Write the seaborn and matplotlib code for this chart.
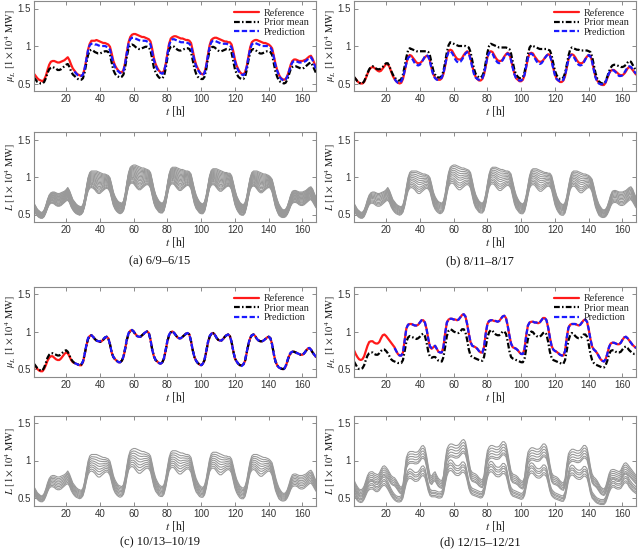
import numpy as np
import pandas as pd
import seaborn as sns
import matplotlib
matplotlib.use("Agg")
import matplotlib.pyplot as plt

hours = list(range(1, 169))
pred_hours = hours[24:]

# ---------------- (a) 6/9-6/15 ----------------
ref_a = [0.63,0.60,0.57,0.55,0.54,0.53,0.55,0.60,0.68,0.75,0.79,0.80,0.80,0.79,0.78,0.78,0.79,0.80,0.81,0.83,0.85,0.81,0.75,0.70,
         0.67,0.64,0.62,0.61,0.60,0.62,0.70,0.82,0.95,1.03,1.07,1.07,1.07,1.08,1.07,1.06,1.05,1.04,1.04,1.03,1.02,0.99,0.90,0.80,
         0.74,0.70,0.67,0.65,0.65,0.68,0.78,0.92,1.05,1.12,1.15,1.16,1.16,1.15,1.14,1.13,1.12,1.12,1.11,1.10,1.09,1.06,0.96,0.84,
         0.76,0.71,0.67,0.65,0.64,0.67,0.76,0.90,1.03,1.10,1.12,1.13,1.13,1.12,1.11,1.10,1.10,1.09,1.08,1.08,1.07,1.04,0.94,0.83,
         0.75,0.70,0.66,0.63,0.62,0.65,0.74,0.88,1.01,1.08,1.10,1.11,1.11,1.10,1.09,1.08,1.07,1.06,1.06,1.05,1.05,1.02,0.93,0.82,
         0.74,0.69,0.65,0.63,0.62,0.65,0.73,0.86,0.98,1.05,1.07,1.08,1.08,1.07,1.06,1.05,1.04,1.04,1.03,1.02,1.00,0.97,0.87,0.76,
         0.68,0.62,0.58,0.56,0.55,0.56,0.60,0.67,0.75,0.80,0.82,0.82,0.81,0.80,0.80,0.80,0.81,0.82,0.84,0.86,0.87,0.83,0.77,0.72]
prior_a = [0.58,0.55,0.52,0.51,0.50,0.50,0.52,0.57,0.64,0.69,0.71,0.72,0.71,0.70,0.68,0.68,0.69,0.71,0.73,0.75,0.76,0.72,0.66,0.62,
           0.60,0.58,0.56,0.55,0.55,0.57,0.65,0.77,0.88,0.94,0.95,0.94,0.92,0.91,0.90,0.90,0.91,0.92,0.93,0.93,0.92,0.88,0.78,0.68,
           0.63,0.60,0.59,0.58,0.59,0.62,0.72,0.86,0.97,1.01,1.02,1.01,0.99,0.97,0.96,0.96,0.97,0.98,0.99,0.99,0.98,0.94,0.83,0.71,
           0.65,0.61,0.58,0.57,0.57,0.60,0.70,0.84,0.95,0.99,1.00,0.99,0.97,0.95,0.94,0.94,0.95,0.96,0.97,0.97,0.96,0.92,0.81,0.70,
           0.63,0.59,0.57,0.56,0.56,0.59,0.69,0.83,0.94,0.98,0.99,0.98,0.96,0.94,0.93,0.93,0.94,0.95,0.96,0.96,0.95,0.91,0.80,0.69,
           0.63,0.59,0.57,0.56,0.56,0.59,0.68,0.81,0.91,0.95,0.96,0.95,0.93,0.91,0.90,0.90,0.91,0.92,0.93,0.93,0.92,0.88,0.77,0.66,
           0.59,0.54,0.52,0.51,0.50,0.51,0.55,0.62,0.69,0.72,0.73,0.73,0.72,0.71,0.70,0.70,0.71,0.73,0.75,0.77,0.78,0.74,0.69,0.64]
pred_a = [0.66,0.63,0.61,0.60,0.60,0.62,0.70,0.82,0.94,1.01,1.03,1.03,1.02,1.02,1.01,1.00,1.00,1.00,1.00,0.99,0.98,0.95,0.86,0.77,
          0.72,0.68,0.66,0.64,0.64,0.67,0.77,0.91,1.03,1.09,1.11,1.11,1.10,1.09,1.08,1.07,1.07,1.07,1.07,1.06,1.05,1.02,0.92,0.81,
          0.74,0.69,0.66,0.64,0.63,0.66,0.75,0.89,1.01,1.07,1.09,1.09,1.08,1.07,1.06,1.05,1.05,1.05,1.05,1.04,1.03,1.00,0.90,0.80,
          0.73,0.68,0.65,0.62,0.61,0.64,0.73,0.87,0.99,1.05,1.07,1.07,1.06,1.05,1.04,1.03,1.03,1.03,1.03,1.02,1.01,0.98,0.89,0.79,
          0.72,0.67,0.64,0.62,0.61,0.64,0.72,0.85,0.96,1.02,1.04,1.04,1.03,1.02,1.01,1.00,1.00,1.00,1.00,0.99,0.98,0.94,0.85,0.74,
          0.67,0.61,0.57,0.55,0.54,0.55,0.59,0.66,0.73,0.78,0.80,0.80,0.79,0.78,0.78,0.78,0.79,0.80,0.82,0.84,0.85,0.81,0.75,0.70]

# ---------------- (b) 8/11-8/17 ----------------
ref_b = [0.58,0.56,0.53,0.51,0.50,0.50,0.52,0.57,0.63,0.68,0.71,0.72,0.71,0.69,0.67,0.66,0.67,0.70,0.73,0.76,0.76,0.72,0.66,0.60,
         0.56,0.53,0.51,0.50,0.51,0.56,0.66,0.77,0.85,0.88,0.87,0.84,0.81,0.78,0.77,0.77,0.79,0.82,0.85,0.87,0.86,0.80,0.70,0.62,
         0.58,0.56,0.55,0.55,0.57,0.63,0.74,0.86,0.93,0.95,0.94,0.90,0.86,0.83,0.82,0.82,0.84,0.88,0.91,0.93,0.91,0.84,0.74,0.65,
         0.59,0.56,0.54,0.54,0.56,0.62,0.73,0.85,0.92,0.93,0.92,0.88,0.84,0.81,0.80,0.80,0.82,0.86,0.89,0.91,0.89,0.82,0.72,0.63,
         0.57,0.55,0.53,0.53,0.55,0.61,0.72,0.84,0.90,0.91,0.90,0.86,0.83,0.80,0.79,0.79,0.81,0.84,0.87,0.89,0.88,0.81,0.71,0.62,
         0.56,0.54,0.52,0.52,0.54,0.60,0.71,0.82,0.88,0.89,0.88,0.85,0.81,0.78,0.77,0.77,0.79,0.83,0.86,0.88,0.87,0.80,0.69,0.59,
         0.54,0.51,0.49,0.48,0.48,0.51,0.57,0.63,0.67,0.68,0.68,0.66,0.64,0.62,0.61,0.61,0.63,0.66,0.70,0.72,0.71,0.68,0.65,0.62]
prior_b = [0.59,0.56,0.53,0.51,0.50,0.50,0.53,0.58,0.64,0.69,0.72,0.73,0.72,0.70,0.69,0.69,0.70,0.72,0.75,0.77,0.77,0.73,0.67,0.62,
           0.58,0.56,0.54,0.54,0.56,0.62,0.73,0.85,0.94,0.97,0.96,0.95,0.94,0.93,0.93,0.93,0.93,0.93,0.93,0.93,0.92,0.87,0.77,0.67,
           0.62,0.59,0.58,0.58,0.60,0.67,0.79,0.92,1.01,1.05,1.04,1.03,1.02,1.01,1.00,1.00,1.00,1.00,1.00,0.99,0.98,0.92,0.81,0.70,
           0.63,0.60,0.58,0.58,0.60,0.66,0.78,0.91,1.00,1.03,1.02,1.01,1.00,0.99,0.98,0.98,0.98,0.98,0.98,0.97,0.96,0.90,0.79,0.68,
           0.62,0.59,0.57,0.57,0.59,0.65,0.77,0.89,0.98,1.01,1.00,0.99,0.98,0.97,0.96,0.96,0.96,0.96,0.96,0.95,0.94,0.88,0.77,0.67,
           0.61,0.58,0.56,0.56,0.58,0.64,0.75,0.87,0.95,0.98,0.97,0.96,0.95,0.95,0.94,0.94,0.94,0.94,0.94,0.93,0.92,0.86,0.75,0.64,
           0.57,0.53,0.51,0.50,0.50,0.53,0.59,0.66,0.71,0.74,0.75,0.75,0.74,0.73,0.72,0.72,0.73,0.75,0.78,0.80,0.79,0.75,0.71,0.67]
pred_b = [0.56,0.53,0.51,0.51,0.53,0.58,0.67,0.77,0.84,0.86,0.85,0.81,0.77,0.75,0.74,0.75,0.78,0.82,0.86,0.88,0.86,0.79,0.69,0.61,
          0.57,0.55,0.55,0.56,0.58,0.64,0.75,0.86,0.92,0.93,0.91,0.87,0.82,0.79,0.78,0.79,0.82,0.86,0.90,0.92,0.90,0.82,0.72,0.63,
          0.58,0.56,0.55,0.55,0.57,0.63,0.74,0.85,0.91,0.92,0.90,0.85,0.81,0.78,0.77,0.78,0.81,0.85,0.88,0.90,0.88,0.81,0.71,0.62,
          0.57,0.55,0.54,0.54,0.56,0.62,0.73,0.84,0.89,0.90,0.88,0.84,0.80,0.77,0.76,0.77,0.80,0.84,0.87,0.89,0.87,0.80,0.70,0.61,
          0.56,0.54,0.53,0.53,0.55,0.61,0.72,0.82,0.87,0.88,0.86,0.82,0.78,0.75,0.74,0.75,0.78,0.82,0.86,0.88,0.86,0.79,0.68,0.58,
          0.53,0.50,0.49,0.49,0.49,0.52,0.58,0.64,0.67,0.68,0.67,0.65,0.62,0.60,0.60,0.61,0.64,0.68,0.71,0.73,0.72,0.69,0.66,0.63]

# ---------------- (c) 10/13-10/19 ----------------
ref_c = [0.56,0.53,0.50,0.48,0.47,0.47,0.50,0.55,0.61,0.65,0.67,0.67,0.65,0.63,0.62,0.62,0.64,0.67,0.70,0.72,0.71,0.67,0.62,0.59,
         0.58,0.57,0.56,0.55,0.55,0.59,0.69,0.81,0.90,0.94,0.95,0.93,0.90,0.88,0.87,0.86,0.87,0.89,0.91,0.93,0.91,0.83,0.72,0.66,
         0.63,0.61,0.59,0.59,0.61,0.66,0.77,0.89,0.97,1.01,1.02,1.00,0.97,0.94,0.93,0.93,0.95,0.97,0.99,1.00,0.98,0.89,0.76,0.67,
         0.62,0.60,0.58,0.57,0.59,0.64,0.75,0.87,0.95,0.99,1.00,0.98,0.95,0.92,0.91,0.91,0.93,0.95,0.97,0.98,0.96,0.87,0.75,0.66,
         0.61,0.58,0.56,0.55,0.57,0.62,0.73,0.85,0.93,0.97,0.98,0.96,0.92,0.89,0.88,0.88,0.90,0.93,0.95,0.96,0.94,0.86,0.74,0.64,
         0.60,0.57,0.55,0.55,0.56,0.61,0.72,0.83,0.91,0.95,0.96,0.94,0.90,0.88,0.87,0.87,0.88,0.90,0.92,0.93,0.91,0.83,0.70,0.60,
         0.55,0.52,0.51,0.50,0.50,0.53,0.60,0.67,0.71,0.73,0.73,0.72,0.71,0.70,0.69,0.69,0.71,0.74,0.77,0.78,0.76,0.72,0.69,0.66]
prior_c = [0.57,0.54,0.51,0.49,0.48,0.48,0.52,0.58,0.65,0.69,0.71,0.71,0.70,0.69,0.68,0.68,0.70,0.72,0.74,0.75,0.73,0.68,0.63,0.60,
           0.58,0.57,0.56,0.55,0.56,0.60,0.70,0.81,0.90,0.94,0.95,0.93,0.90,0.88,0.87,0.86,0.87,0.89,0.92,0.93,0.91,0.83,0.72,0.66,
           0.63,0.61,0.59,0.59,0.61,0.66,0.77,0.89,0.97,1.01,1.02,1.00,0.96,0.94,0.93,0.93,0.95,0.97,0.99,1.00,0.98,0.89,0.76,0.67,
           0.62,0.60,0.58,0.57,0.59,0.64,0.75,0.87,0.95,0.99,1.00,0.98,0.95,0.92,0.91,0.91,0.93,0.95,0.97,0.98,0.96,0.87,0.75,0.66,
           0.61,0.58,0.56,0.55,0.57,0.62,0.73,0.85,0.93,0.97,0.98,0.96,0.92,0.89,0.88,0.88,0.90,0.93,0.95,0.96,0.94,0.86,0.74,0.64,
           0.60,0.57,0.55,0.55,0.56,0.61,0.72,0.83,0.91,0.95,0.96,0.94,0.90,0.88,0.87,0.87,0.88,0.90,0.92,0.93,0.91,0.83,0.70,0.60,
           0.55,0.52,0.51,0.50,0.50,0.53,0.60,0.67,0.71,0.73,0.73,0.72,0.71,0.70,0.69,0.69,0.71,0.74,0.77,0.78,0.76,0.72,0.69,0.66]
pred_c = [0.58,0.57,0.56,0.55,0.56,0.60,0.70,0.82,0.91,0.95,0.95,0.93,0.90,0.88,0.87,0.87,0.88,0.90,0.92,0.93,0.91,0.83,0.72,0.66,
          0.63,0.61,0.59,0.59,0.61,0.67,0.78,0.90,0.98,1.01,1.02,1.00,0.97,0.94,0.93,0.93,0.95,0.97,0.99,1.00,0.98,0.89,0.76,0.67,
          0.62,0.60,0.58,0.57,0.59,0.65,0.76,0.88,0.96,0.99,1.00,0.98,0.95,0.92,0.91,0.91,0.93,0.95,0.97,0.98,0.96,0.87,0.75,0.66,
          0.61,0.58,0.56,0.55,0.57,0.63,0.74,0.86,0.94,0.97,0.98,0.96,0.92,0.89,0.88,0.88,0.90,0.93,0.95,0.96,0.94,0.86,0.74,0.64,
          0.60,0.57,0.55,0.54,0.56,0.62,0.73,0.84,0.92,0.95,0.96,0.94,0.90,0.88,0.87,0.87,0.88,0.90,0.92,0.93,0.91,0.83,0.70,0.60,
          0.55,0.52,0.51,0.50,0.50,0.54,0.61,0.68,0.72,0.73,0.73,0.72,0.71,0.70,0.69,0.69,0.71,0.74,0.77,0.78,0.76,0.72,0.69,0.66]

# ---------------- (d) 12/15-12/21 ----------------
ref_d = [0.75,0.70,0.66,0.63,0.62,0.63,0.67,0.74,0.81,0.86,0.87,0.87,0.85,0.84,0.84,0.86,0.91,0.95,0.96,0.94,0.91,0.88,0.85,0.82,
         0.79,0.74,0.70,0.68,0.68,0.72,0.88,1.04,1.09,1.10,1.10,1.09,1.08,1.08,1.09,1.12,1.15,1.15,1.12,1.03,0.90,0.79,0.77,0.79,
         0.81,0.77,0.73,0.72,0.72,0.80,0.98,1.12,1.16,1.17,1.17,1.16,1.16,1.15,1.16,1.19,1.22,1.23,1.20,1.10,0.97,0.86,0.81,0.80,
         0.79,0.77,0.74,0.72,0.72,0.79,0.97,1.10,1.14,1.15,1.15,1.14,1.14,1.13,1.14,1.17,1.20,1.21,1.18,1.08,0.95,0.84,0.79,0.78,
         0.77,0.75,0.72,0.70,0.70,0.77,0.95,1.08,1.12,1.13,1.13,1.12,1.12,1.11,1.12,1.15,1.18,1.18,1.15,1.05,0.92,0.81,0.76,0.74,
         0.73,0.71,0.69,0.68,0.68,0.74,0.92,1.05,1.09,1.10,1.10,1.10,1.09,1.08,1.09,1.12,1.15,1.16,1.13,1.03,0.90,0.80,0.76,0.74,
         0.71,0.67,0.63,0.61,0.60,0.63,0.70,0.79,0.84,0.85,0.85,0.84,0.83,0.83,0.85,0.89,0.92,0.93,0.91,0.88,0.85,0.82,0.80,0.78]
prior_d = [0.60,0.56,0.52,0.50,0.50,0.51,0.55,0.62,0.68,0.71,0.72,0.72,0.70,0.69,0.69,0.71,0.74,0.76,0.76,0.74,0.71,0.67,0.63,0.61,
           0.60,0.59,0.58,0.58,0.58,0.62,0.74,0.86,0.92,0.94,0.93,0.92,0.91,0.90,0.91,0.93,0.96,0.97,0.94,0.85,0.73,0.66,0.65,0.66,
           0.66,0.64,0.61,0.60,0.60,0.66,0.80,0.94,1.01,1.03,1.02,1.00,0.99,0.98,0.98,1.00,1.03,1.03,0.99,0.89,0.76,0.68,0.66,0.65,
           0.64,0.63,0.62,0.61,0.61,0.66,0.79,0.92,0.99,1.02,1.01,0.98,0.96,0.95,0.95,0.97,1.00,1.00,0.97,0.87,0.74,0.66,0.64,0.63,
           0.62,0.61,0.60,0.59,0.59,0.64,0.77,0.90,0.97,1.00,0.99,0.96,0.94,0.93,0.93,0.95,0.98,0.99,0.96,0.86,0.73,0.65,0.62,0.61,
           0.60,0.59,0.58,0.57,0.57,0.62,0.75,0.88,0.95,0.98,0.97,0.94,0.92,0.91,0.91,0.93,0.96,0.96,0.93,0.83,0.70,0.62,0.58,0.56,
           0.55,0.54,0.53,0.52,0.52,0.55,0.61,0.69,0.74,0.75,0.75,0.73,0.72,0.72,0.73,0.76,0.79,0.80,0.78,0.75,0.73,0.71,0.70,0.70]
pred_d = [0.78,0.74,0.70,0.68,0.68,0.72,0.88,1.04,1.09,1.10,1.10,1.09,1.08,1.08,1.09,1.12,1.15,1.15,1.12,1.03,0.90,0.80,0.78,0.79,
          0.81,0.77,0.73,0.72,0.72,0.80,0.98,1.12,1.16,1.17,1.17,1.16,1.16,1.15,1.16,1.19,1.22,1.23,1.20,1.10,0.97,0.86,0.81,0.80,
          0.79,0.77,0.74,0.72,0.72,0.79,0.97,1.10,1.14,1.15,1.15,1.14,1.14,1.13,1.14,1.17,1.20,1.21,1.18,1.08,0.95,0.84,0.79,0.78,
          0.77,0.75,0.72,0.70,0.70,0.77,0.95,1.08,1.12,1.13,1.13,1.12,1.12,1.11,1.12,1.15,1.18,1.18,1.15,1.05,0.92,0.81,0.76,0.74,
          0.73,0.71,0.69,0.68,0.68,0.74,0.92,1.05,1.09,1.10,1.10,1.10,1.09,1.08,1.09,1.12,1.15,1.16,1.13,1.03,0.90,0.80,0.76,0.74,
          0.71,0.67,0.63,0.61,0.60,0.63,0.70,0.79,0.84,0.85,0.85,0.84,0.83,0.83,0.85,0.89,0.92,0.93,0.91,0.88,0.85,0.82,0.80,0.78]

# ---------------- load scenarios (gray) ----------------
# summer set: upper and lower member, members in between at read positions
summer_hi = [0.65,0.61,0.57,0.55,0.53,0.53,0.56,0.62,0.70,0.76,0.79,0.80,0.80,0.79,0.78,0.78,0.79,0.80,0.81,0.83,0.86,0.82,0.76,0.70,
             0.67,0.64,0.62,0.61,0.60,0.63,0.72,0.86,0.99,1.06,1.08,1.08,1.08,1.08,1.07,1.06,1.05,1.04,1.04,1.03,1.02,0.99,0.90,0.80,
             0.74,0.70,0.67,0.66,0.65,0.68,0.78,0.93,1.06,1.13,1.15,1.16,1.16,1.15,1.14,1.13,1.12,1.12,1.11,1.10,1.09,1.06,0.96,0.85,
             0.77,0.72,0.68,0.66,0.65,0.68,0.77,0.91,1.04,1.11,1.13,1.13,1.13,1.12,1.11,1.10,1.10,1.09,1.08,1.08,1.07,1.04,0.94,0.84,
             0.76,0.71,0.67,0.65,0.64,0.67,0.76,0.89,1.02,1.09,1.11,1.11,1.11,1.10,1.09,1.08,1.07,1.06,1.06,1.05,1.05,1.02,0.93,0.83,
             0.75,0.70,0.66,0.64,0.63,0.66,0.74,0.87,0.99,1.06,1.08,1.08,1.08,1.07,1.06,1.05,1.04,1.04,1.03,1.02,1.00,0.97,0.88,0.78,
             0.70,0.64,0.60,0.57,0.56,0.57,0.61,0.68,0.76,0.81,0.82,0.82,0.81,0.80,0.80,0.80,0.81,0.82,0.84,0.86,0.87,0.84,0.78,0.73]
summer_lo = [0.55,0.51,0.48,0.46,0.45,0.45,0.47,0.52,0.58,0.63,0.65,0.65,0.64,0.62,0.61,0.61,0.62,0.64,0.66,0.68,0.69,0.66,0.60,0.56,
             0.53,0.51,0.50,0.49,0.50,0.53,0.61,0.72,0.81,0.85,0.86,0.85,0.83,0.80,0.78,0.78,0.80,0.82,0.84,0.85,0.84,0.80,0.71,0.62,
             0.57,0.54,0.52,0.51,0.52,0.55,0.64,0.77,0.87,0.91,0.92,0.91,0.88,0.85,0.83,0.83,0.85,0.87,0.89,0.90,0.89,0.85,0.75,0.65,
             0.59,0.56,0.53,0.52,0.52,0.55,0.64,0.76,0.86,0.90,0.91,0.90,0.87,0.84,0.82,0.82,0.84,0.86,0.88,0.89,0.88,0.84,0.74,0.64,
             0.58,0.55,0.52,0.51,0.51,0.54,0.63,0.75,0.85,0.89,0.90,0.89,0.86,0.83,0.81,0.81,0.83,0.85,0.87,0.88,0.87,0.83,0.73,0.63,
             0.57,0.53,0.50,0.49,0.49,0.52,0.61,0.73,0.83,0.87,0.88,0.87,0.84,0.81,0.79,0.79,0.81,0.83,0.85,0.86,0.85,0.80,0.70,0.60,
             0.54,0.49,0.47,0.46,0.46,0.47,0.50,0.55,0.61,0.65,0.66,0.66,0.65,0.63,0.62,0.62,0.63,0.65,0.67,0.69,0.70,0.67,0.63,0.59]
member_pos_a = [0.0, 0.06, 0.12, 0.2, 0.26, 0.33, 0.4, 0.46, 0.52, 0.58, 0.64, 0.7, 0.76, 0.82, 0.88, 0.94, 1.0]
member_pos_b = [0.0, 0.1, 0.2, 0.3, 0.42, 0.52, 0.62, 0.72, 0.82, 0.92, 1.0]
member_pos_c = [0.0, 0.12, 0.25, 0.37, 0.5, 0.62, 0.75, 0.87, 1.0]

# winter set: two groups of members
winter_upper = [0.74,0.69,0.65,0.62,0.61,0.62,0.66,0.73,0.80,0.84,0.85,0.85,0.83,0.82,0.81,0.83,0.88,0.92,0.93,0.91,0.88,0.84,0.80,0.78,
                0.77,0.74,0.70,0.66,0.64,0.68,0.86,1.04,1.10,1.12,1.12,1.12,1.11,1.11,1.12,1.15,1.19,1.20,1.17,1.06,0.92,0.81,0.79,0.83,
                0.85,0.80,0.76,0.74,0.73,0.80,1.00,1.15,1.20,1.22,1.22,1.21,1.20,1.20,1.21,1.24,1.27,1.28,1.25,1.14,1.00,0.88,0.84,0.83,
                0.82,0.80,0.77,0.75,0.74,0.80,0.99,1.13,1.18,1.20,1.20,1.19,1.18,1.18,1.19,1.22,1.25,1.25,1.22,1.11,0.98,0.86,0.82,0.81,
                0.80,0.78,0.75,0.73,0.72,0.78,0.97,1.11,1.15,1.17,1.17,1.16,1.15,1.15,1.16,1.19,1.22,1.22,1.19,1.09,0.95,0.84,0.80,0.79,
                0.78,0.76,0.73,0.71,0.70,0.76,0.95,1.09,1.13,1.15,1.15,1.14,1.13,1.13,1.14,1.17,1.20,1.20,1.17,1.06,0.92,0.82,0.78,0.76,
                0.73,0.69,0.65,0.63,0.62,0.65,0.73,0.82,0.87,0.88,0.88,0.87,0.86,0.85,0.87,0.92,0.96,0.97,0.95,0.92,0.89,0.86,0.83,0.80]
winter_lower = [0.62,0.58,0.54,0.52,0.51,0.52,0.56,0.62,0.68,0.71,0.72,0.72,0.70,0.68,0.68,0.70,0.74,0.77,0.78,0.76,0.72,0.67,0.62,0.58,
                0.55,0.53,0.52,0.52,0.53,0.58,0.70,0.81,0.87,0.89,0.88,0.86,0.84,0.84,0.85,0.88,0.92,0.93,0.90,0.80,0.69,0.62,0.60,0.60,
                0.60,0.59,0.58,0.58,0.59,0.65,0.79,0.92,0.99,1.01,1.00,0.97,0.94,0.93,0.93,0.95,0.98,0.98,0.95,0.85,0.73,0.66,0.63,0.62,
                0.61,0.60,0.59,0.58,0.59,0.64,0.77,0.90,0.97,0.99,0.98,0.95,0.92,0.91,0.91,0.93,0.96,0.96,0.93,0.83,0.71,0.64,0.61,0.60,
                0.59,0.58,0.57,0.56,0.57,0.62,0.75,0.88,0.95,0.97,0.96,0.93,0.90,0.89,0.89,0.91,0.94,0.94,0.91,0.81,0.69,0.62,0.59,0.57,
                0.56,0.55,0.54,0.53,0.53,0.58,0.71,0.85,0.92,0.94,0.93,0.90,0.88,0.87,0.87,0.89,0.92,0.92,0.89,0.79,0.66,0.58,0.55,0.52,
                0.50,0.49,0.48,0.48,0.48,0.51,0.58,0.66,0.72,0.75,0.75,0.73,0.72,0.72,0.73,0.77,0.81,0.82,0.80,0.75,0.72,0.69,0.67,0.65]
member_level_upper_d = [1.0, 0.97, 0.94, 0.91, 0.88, 0.86]
member_level_lower_d = [1.0, 0.96, 0.93, 0.89, 0.86]

captions = ["(a) 6/9\u20136/15", "(b) 8/11\u20138/17", "(c) 10/13\u201310/19", "(d) 12/15\u201312/21"]
legend_labels = ["Reference", "Prior mean", "Prediction"]
xticks = [20, 40, 60, 80, 100, 120, 140, 160]
yticks = [0.5, 1, 1.5]


def summer_members(pos):
    hi, lo = np.array(summer_hi), np.array(summer_lo)
    frames = []
    for i, p in enumerate(pos):
        frames.append(pd.DataFrame({"t": hours, "L": lo + p * (hi - lo), "m": i}))
    return pd.concat(frames)


def winter_members():
    frames = []
    k = 0
    for base, levels in ((winter_upper, member_level_upper_d), (winter_lower, member_level_lower_d)):
        for s in levels:
            frames.append(pd.DataFrame({"t": hours, "L": np.array(base) * s, "m": k}))
            k += 1
    return pd.concat(frames)


panels = [
    (ref_a, prior_a, pred_a, summer_members(member_pos_a)),
    (ref_b, prior_b, pred_b, summer_members(member_pos_b)),
    (ref_c, prior_c, pred_c, summer_members(member_pos_c)),
    (ref_d, prior_d, pred_d, winter_members()),
]

sns.set_theme(style="ticks")
plt.rcParams["font.family"] = ["Liberation Sans", "DejaVu Sans"]
plt.rcParams["mathtext.fontset"] = "stix"

W, H = 640, 552
fig = plt.figure(figsize=(W / 100, H / 100), dpi=100)


def rect(x0, x1, y0, y1):
    return [x0 / W, 1 - y1 / H, (x1 - x0) / W, (y1 - y0) / H]


cols = [(34, 316), (354, 636)]
rows = [((1, 91), (132, 222), 261), ((286.5, 376.5), (415.5, 505.5), 542)]
spine_c = "#8a8a8a"


def style(ax, ylabel):
    ax.set_xlim(1, 168)
    ax.set_ylim(0.4, 1.6)
    ax.set_xticks(xticks)
    ax.set_yticks(yticks)
    ax.set_yticklabels(["0.5", "1", "1.5"])
    ax.tick_params(direction="in", top=True, right=True, length=3, width=0.6,
                   color="#777777", labelcolor="#333333", labelsize=7, pad=2.5)
    for s in ax.spines.values():
        s.set_visible(True)
        s.set_color(spine_c)
        s.set_linewidth(0.8)
    ax.set_xlabel(r"$t$ [h]", fontsize=8.5, family="STIXGeneral", color="#222222", labelpad=0.5)
    ax.set_ylabel(ylabel, fontsize=7.6, family="STIXGeneral", color="#222222")
    ax.yaxis.set_label_coords(-0.0585, 0.5)
    ax.grid(False)


for idx, (ref, prior, pred, members) in enumerate(panels):
    r, c = divmod(idx, 2)
    (x0, x1) = cols[c]
    (ty, by, capy) = rows[r]
    ax1 = fig.add_axes(rect(x0, x1, ty[0], ty[1]))
    sns.lineplot(x=hours, y=ref, ax=ax1, color="#ff1a1a", lw=1.6, label=legend_labels[0])
    sns.lineplot(x=hours, y=prior, ax=ax1, color="black", lw=1.6,
                 linestyle=(0, (2.6, 1.0, 0.7, 1.0)), label=legend_labels[1])
    sns.lineplot(x=pred_hours, y=pred, ax=ax1, color="#1a1aff", lw=1.6,
                 linestyle=(0, (2.4, 1.1)), label=legend_labels[2])
    style(ax1, r"$\mu_L$ [$1 \times 10^4$ MW]")
    ax1.legend(loc="upper right", frameon=False, handlelength=2.5,
               labelspacing=0.05, handletextpad=0.4, borderaxespad=0.35,
               prop={"family": "Liberation Serif", "size": 7.3})

    ax2 = fig.add_axes(rect(x0, x1, by[0], by[1]))
    sns.lineplot(data=members, x="t", y="L", units="m", estimator=None, ax=ax2,
                 color="#999999", lw=0.8)
    style(ax2, r"$L$ [$1 \times 10^4$ MW]")

    fig.text((160 + 320 * c) / W, 1 - capy / H, captions[idx], ha="center", va="center",
             fontsize=9, family="Liberation Serif", color="#111111")

fig.savefig("out.png", dpi=100)
